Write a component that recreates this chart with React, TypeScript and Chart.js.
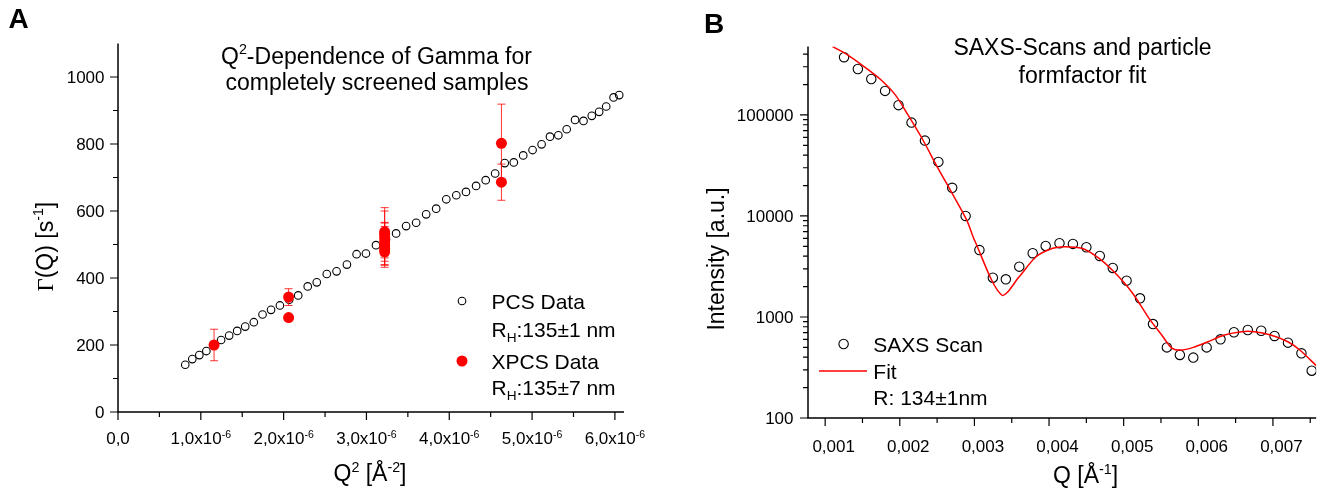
import { useEffect, useRef } from 'react';
import { Chart, registerables } from 'chart.js';

Chart.register(...registerables);

const SANS = '"Liberation Sans", Arial, Helvetica, sans-serif';
const SERIF = '"Liberation Serif", "Times New Roman", serif';

// ---------------- Panel A data ----------------
const pcsQ2 = [
  0.812e-6, 0.897e-6, 0.982e-6, 1.067e-6, 1.158e-6, 1.245e-6, 1.342e-6, 1.439e-6, 1.536e-6, 1.64e-6,
  1.745e-6, 1.848e-6, 1.955e-6, 2.067e-6, 2.176e-6, 2.291e-6, 2.4e-6, 2.521e-6, 2.639e-6, 2.764e-6,
  2.881e-6, 2.994e-6, 3.115e-6, 3.236e-6, 3.358e-6, 3.479e-6, 3.6e-6, 3.721e-6, 3.842e-6, 3.964e-6,
  4.085e-6, 4.202e-6, 4.324e-6, 4.44e-6, 4.554e-6, 4.67e-6, 4.779e-6, 4.893e-6, 5.006e-6, 5.115e-6,
  5.216e-6, 5.317e-6, 5.418e-6, 5.519e-6, 5.621e-6, 5.721e-6, 5.81e-6, 5.895e-6, 5.984e-6, 6.052e-6,
];
const pcsGamma = [
  141, 158, 170, 182, 199, 215, 228, 242, 255, 268,
  291, 305, 318, 335, 348, 375, 387, 412, 420, 440,
  471, 473, 498, 515, 533, 555, 565, 590, 607, 635,
  647, 657, 675, 692, 712, 743, 745, 766, 782, 799,
  822, 826, 844, 872, 869, 884, 896, 912, 939, 946,
];
const xpcsQ2 = [1.16e-6, 2.06e-6, 2.06e-6, 3.22e-6, 3.22e-6, 3.22e-6, 3.22e-6, 3.22e-6, 3.22e-6, 3.22e-6, 4.63e-6, 4.63e-6];
const xpcsGamma = [200, 343, 282, 538, 530, 520, 508, 497, 487, 478, 802, 686];
const xpcsErr = [47, 25, 6, 72, 70, 44, 58, 57, 55, 40, 117, 54];

const aXMajor = [0, 1e-6, 2e-6, 3e-6, 4e-6, 5e-6, 6e-6];
const aXLabels = ['0,0', '1,0x10^{-6}', '2,0x10^{-6}', '3,0x10^{-6}', '4,0x10^{-6}', '5,0x10^{-6}', '6,0x10^{-6}'];
const aXMinor = [0.5e-6, 1.5e-6, 2.5e-6, 3.5e-6, 4.5e-6, 5.5e-6];
const aYMajor = [0, 200, 400, 600, 800, 1000];
const aYLabels = ['0', '200', '400', '600', '800', '1000'];
const aYMinor = [100, 300, 500, 700, 900];

// ---------------- Panel B data ----------------
const saxsQ = [
  0.001253, 0.001438, 0.001618, 0.001803, 0.001983, 0.002157, 0.002337, 0.002517, 0.002702, 0.002882,
  0.003067, 0.003247, 0.003421, 0.003601, 0.003781, 0.003955, 0.00414, 0.00432, 0.0045, 0.00468,
  0.004854, 0.005039, 0.005219, 0.005393, 0.005579, 0.005753, 0.005933, 0.006112, 0.006298, 0.006478,
  0.006663, 0.006843, 0.007022, 0.007202, 0.007382, 0.00752,
];
const saxsI = [
  373000, 285000, 227000, 173000, 125000, 84000, 55700, 34300, 19000, 10000,
  4600, 2450, 2360, 3150, 4280, 5050, 5370, 5290, 4900, 4020,
  3060, 2290, 1530, 851, 500, 421, 396, 500, 601, 706,
  743, 731, 649, 557, 437, 294,
];
const fitQ = [
  0.0011, 0.0013, 0.00152, 0.00175, 0.00194, 0.00211, 0.00231, 0.0025, 0.0027, 0.0029,
  0.003, 0.003365, 0.0036, 0.003826, 0.00405, 0.00421, 0.00444, 0.00467, 0.00489, 0.00512,
  0.00534, 0.00551, 0.00565, 0.00579, 0.00596, 0.00613, 0.00635, 0.00658, 0.00675, 0.00697,
  0.0072, 0.00736, 0.00758,
];
const fitI = [
  474000, 393000, 301000, 222000, 158000, 100000, 56500, 30800, 16800, 9000,
  5780, 1650, 2500, 3950, 4790, 4970, 4790, 3810, 2710, 1720,
  970, 663, 490, 471, 508, 569, 663, 716, 716, 663,
  569, 471, 330,
];

const bXMajor = [0.001, 0.002, 0.003, 0.004, 0.005, 0.006, 0.007];
const bXLabels = ['0,001', '0,002', '0,003', '0,004', '0,005', '0,006', '0,007'];
const bXMinor = [0.0015, 0.0025, 0.0035, 0.0045, 0.0055, 0.0065, 0.0075];
const bYMajor = [100, 1000, 10000, 100000];
const bYLabels = ['100', '1000', '10000', '100000'];
const bYMinor = [
  200, 300, 400, 500, 600, 700, 800, 900,
  2000, 3000, 4000, 5000, 6000, 7000, 8000, 9000,
  20000, 30000, 40000, 50000, 60000, 70000, 80000, 90000,
  200000, 300000, 400000,
];

// ---------------- rich text helper ----------------
type Seg = { t: string; kind: 'n' | 'sup' | 'sub'; serif?: boolean };
function parseRich(s: string): Seg[] {
  const segs: Seg[] = [];
  let buf = '';
  let i = 0;
  while (i < s.length) {
    const c = s[i];
    if ((c === '^' || c === '_' || c === '~') && s[i + 1] === '{') {
      if (buf) { segs.push({ t: buf, kind: 'n' }); buf = ''; }
      const end = s.indexOf('}', i + 2);
      const inner = s.slice(i + 2, end);
      if (c === '^') segs.push({ t: inner, kind: 'sup' });
      else if (c === '_') segs.push({ t: inner, kind: 'sub' });
      else segs.push({ t: inner, kind: 'n', serif: true });
      i = end + 1;
    } else {
      buf += c;
      i++;
    }
  }
  if (buf) segs.push({ t: buf, kind: 'n' });
  return segs;
}

function drawRich(
  ctx: CanvasRenderingContext2D, text: string, x: number, y: number, size: number,
  align: 'left' | 'center' | 'right', opts: { bold?: boolean; rotate?: number; color?: string } = {},
) {
  const segs = parseRich(text);
  ctx.save();
  ctx.translate(x, y);
  if (opts.rotate) ctx.rotate(opts.rotate);
  ctx.fillStyle = opts.color || '#000';
  ctx.textAlign = 'left';
  ctx.textBaseline = 'alphabetic';
  const fonts = segs.map((s) => {
    const sz = s.kind === 'sup' ? size * 0.62 : s.kind === 'sub' ? size * 0.65 : size;
    return `${opts.bold ? 'bold ' : ''}${sz}px ${s.serif ? SERIF : SANS}`;
  });
  const widths = segs.map((s, i) => { ctx.font = fonts[i]; return ctx.measureText(s.t).width; });
  const total = widths.reduce((a, b) => a + b, 0);
  let cx = align === 'left' ? 0 : align === 'center' ? -total / 2 : -total;
  segs.forEach((s, i) => {
    ctx.font = fonts[i];
    const dy = s.kind === 'sup' ? -size * 0.4 : s.kind === 'sub' ? size * 0.24 : 0;
    ctx.fillText(s.t, cx, dy);
    cx += widths[i];
  });
  ctx.restore();
}

const TICK_MAJOR = 8;
const TICK_MINOR = 5;
const B_OFF = 661;

function drawFrame(chart: any, xMajor: number[], xMinor: number[], yMajor: number[], yMinor: number[]) {
  const { ctx, chartArea: ca } = chart;
  const xs = chart.scales.x;
  const ys = chart.scales.y;
  ctx.save();
  ctx.strokeStyle = '#000';
  ctx.lineWidth = 1.2;
  ctx.beginPath();
  yMajor.forEach((v) => { const y = ys.getPixelForValue(v); ctx.moveTo(ca.left, y); ctx.lineTo(ca.left - TICK_MAJOR, y); });
  yMinor.forEach((v) => { const y = ys.getPixelForValue(v); ctx.moveTo(ca.left, y); ctx.lineTo(ca.left - TICK_MINOR, y); });
  xMajor.forEach((v) => { const x = xs.getPixelForValue(v); ctx.moveTo(x, ca.bottom); ctx.lineTo(x, ca.bottom + TICK_MAJOR); });
  xMinor.forEach((v) => { const x = xs.getPixelForValue(v); ctx.moveTo(x, ca.bottom); ctx.lineTo(x, ca.bottom + TICK_MINOR); });
  ctx.stroke();
  ctx.lineWidth = 1.5;
  ctx.beginPath();
  ctx.moveTo(ca.left, ca.top);
  ctx.lineTo(ca.left, ca.bottom);
  ctx.lineTo(ca.right, ca.bottom);
  ctx.stroke();
  ctx.restore();
}

const panelAPlugin = {
  id: 'panelA',
  afterDatasetsDraw(chart: any) {
    const { ctx, chartArea: ca } = chart;
    const xs = chart.scales.x;
    const ys = chart.scales.y;
    // error bars
    ctx.save();
    ctx.beginPath();
    ctx.rect(ca.left, ca.top, ca.right - ca.left, ca.bottom - ca.top);
    ctx.clip();
    ctx.strokeStyle = 'rgba(255,0,0,0.8)';
    ctx.lineWidth = 1;
    ctx.beginPath();
    xpcsQ2.forEach((q, i) => {
      const x = xs.getPixelForValue(q);
      const yt = ys.getPixelForValue(xpcsGamma[i] + xpcsErr[i]);
      const yb = ys.getPixelForValue(xpcsGamma[i] - xpcsErr[i]);
      ctx.moveTo(x, yt); ctx.lineTo(x, yb);
      ctx.moveTo(x - 4, yt); ctx.lineTo(x + 4, yt);
      ctx.moveTo(x - 4, yb); ctx.lineTo(x + 4, yb);
    });
    ctx.stroke();
    ctx.restore();
  },
  afterDraw(chart: any) {
    const { ctx, chartArea: ca } = chart;
    const xs = chart.scales.x;
    const ys = chart.scales.y;
    drawFrame(chart, aXMajor, aXMinor, aYMajor, aYMinor);
    aYMajor.forEach((v, i) => drawRich(ctx, aYLabels[i], ca.left - 13.5, ys.getPixelForValue(v) + 6, 17, 'right'));
    aXMajor.forEach((v, i) => drawRich(ctx, aXLabels[i], xs.getPixelForValue(v), ca.bottom + 32.3, 17, 'center'));
    drawRich(ctx, 'Q^{2} [Å^{-2}]', 370, 481, 23, 'center');
    drawRich(ctx, '~{Γ}(Q) [s^{-1}]', 52.5, 246.7, 23, 'center', { rotate: -Math.PI / 2 });
    drawRich(ctx, 'Q^{2}-Dependence of Gamma for', 376.5, 63.5, 23, 'center');
    drawRich(ctx, 'completely screened samples', 377, 89.5, 23, 'center');
    drawRich(ctx, 'A', 8.4, 28.3, 28, 'left', { bold: true });
    // legend
    ctx.save();
    ctx.strokeStyle = '#000';
    ctx.lineWidth = 1.1;
    ctx.beginPath();
    ctx.arc(462, 301, 3.8, 0, Math.PI * 2);
    ctx.stroke();
    ctx.fillStyle = '#ff0000';
    ctx.beginPath();
    ctx.arc(462, 361, 5.5, 0, Math.PI * 2);
    ctx.fill();
    ctx.restore();
    drawRich(ctx, 'PCS Data', 491.5, 309, 21, 'left');
    drawRich(ctx, 'R_{H}:135±1 nm', 491.5, 336.5, 21, 'left');
    drawRich(ctx, 'XPCS Data', 491.5, 369, 21, 'left');
    drawRich(ctx, 'R_{H}:135±7 nm', 491.5, 395, 21, 'left');
  },
};

const panelBPlugin = {
  id: 'panelB',
  afterDraw(chart: any) {
    const { ctx, chartArea: ca } = chart;
    const xs = chart.scales.x;
    const ys = chart.scales.y;
    drawFrame(chart, bXMajor, bXMinor, bYMajor, bYMinor);
    bYMajor.forEach((v, i) => drawRich(ctx, bYLabels[i], ca.left - 14.5, ys.getPixelForValue(v) + 6, 17, 'right'));
    bXMajor.forEach((v, i) => drawRich(ctx, bXLabels[i], xs.getPixelForValue(v) + 8.5, ca.bottom + 33.5, 17, 'center'));
    drawRich(ctx, 'Q [Å^{-1}]', 1085.5 - B_OFF, 483, 23, 'center');
    drawRich(ctx, 'Intensity [a.u.]', 724 - B_OFF, 259, 23, 'center', { rotate: -Math.PI / 2 });
    drawRich(ctx, 'SAXS-Scans and particle', 1082.5 - B_OFF, 55, 23, 'center');
    drawRich(ctx, 'formfactor fit', 1082.5 - B_OFF, 82.5, 23, 'center');
    drawRich(ctx, 'B', 704 - B_OFF, 32.7, 28, 'left', { bold: true });
    // legend
    ctx.save();
    ctx.strokeStyle = '#000';
    ctx.lineWidth = 1.1;
    ctx.beginPath();
    ctx.arc(843.6 - B_OFF, 344, 4.7, 0, Math.PI * 2);
    ctx.stroke();
    ctx.strokeStyle = '#ff0000';
    ctx.lineWidth = 1.5;
    ctx.beginPath();
    ctx.moveTo(819 - B_OFF, 371);
    ctx.lineTo(867 - B_OFF, 371);
    ctx.stroke();
    ctx.restore();
    drawRich(ctx, 'SAXS Scan', 873.3 - B_OFF, 351.5, 21, 'left');
    drawRich(ctx, 'Fit', 873.3 - B_OFF, 378.5, 21, 'left');
    drawRich(ctx, 'R: 134±1nm', 873.3 - B_OFF, 405, 21, 'left');
  },
};

export default function App() {
  const refA = useRef<HTMLCanvasElement>(null);
  const refB = useRef<HTMLCanvasElement>(null);

  useEffect(() => {
    const chartA = new Chart(refA.current as HTMLCanvasElement, {
      type: 'scatter',
      data: {
        datasets: [
          {
            label: 'XPCS Data',
            data: xpcsQ2.map((q, i) => ({ x: q, y: xpcsGamma[i] })),
            pointRadius: 5.5,
            pointBorderWidth: 0,
            pointBackgroundColor: '#ff0000',
            borderColor: '#ff0000',
            order: 0,
          },
          {
            label: 'PCS Data',
            data: pcsQ2.map((q, i) => ({ x: q, y: pcsGamma[i] })),
            pointRadius: 3.8,
            pointBorderWidth: 1.1,
            pointBackgroundColor: 'rgba(0,0,0,0)',
            pointBorderColor: '#000',
            order: 1,
          },
        ],
      },
      options: {
        responsive: false,
        animation: false,
        devicePixelRatio: 1,
        events: [],
        layout: { padding: { left: 118, top: 43.5, right: 661 - 624, bottom: 492 - 412 } },
        plugins: { legend: { display: false }, tooltip: { enabled: false } },
        scales: {
          x: { type: 'linear', min: 0, max: 6.11e-6, display: false },
          y: { type: 'linear', min: 0, max: 1100, display: false },
        },
      },
      plugins: [panelAPlugin],
    } as any);

    const chartB = new Chart(refB.current as HTMLCanvasElement, {
      type: 'scatter',
      data: {
        datasets: [
          {
            label: 'Fit',
            data: fitQ.map((q, i) => ({ x: q, y: fitI[i] })),
            showLine: true,
            borderColor: '#ff0000',
            borderWidth: 1.5,
            pointRadius: 0,
            tension: 0.3,
            fill: false,
            order: 0,
          },
          {
            label: 'SAXS Scan',
            data: saxsQ.map((q, i) => ({ x: q, y: saxsI[i] })),
            pointRadius: 4.7,
            pointBorderWidth: 1.1,
            pointBackgroundColor: 'rgba(0,0,0,0)',
            pointBorderColor: '#000',
            order: 1,
          },
        ],
      },
      options: {
        responsive: false,
        animation: false,
        devicePixelRatio: 1,
        events: [],
        layout: { padding: { left: 808 - B_OFF, top: 46.5, right: 0, bottom: 492 - 418 } },
        plugins: { legend: { display: false }, tooltip: { enabled: false } },
        scales: {
          x: { type: 'linear', min: 0.00077, max: 0.00758, display: false },
          y: { type: 'logarithmic', min: 100, max: 476000, display: false },
        },
      },
      plugins: [panelBPlugin],
    } as any);

    return () => {
      chartA.destroy();
      chartB.destroy();
    };
  }, []);

  return (
    <div style={{ position: 'fixed', left: 0, top: 0, width: 1322, height: 492, background: '#fff', overflow: 'hidden' }}>
      <canvas ref={refA} width={661} height={492} style={{ position: 'absolute', left: 0, top: 0, width: 661, height: 492 }} />
      <canvas ref={refB} width={661} height={492} style={{ position: 'absolute', left: B_OFF, top: 0, width: 661, height: 492 }} />
    </div>
  );
}
